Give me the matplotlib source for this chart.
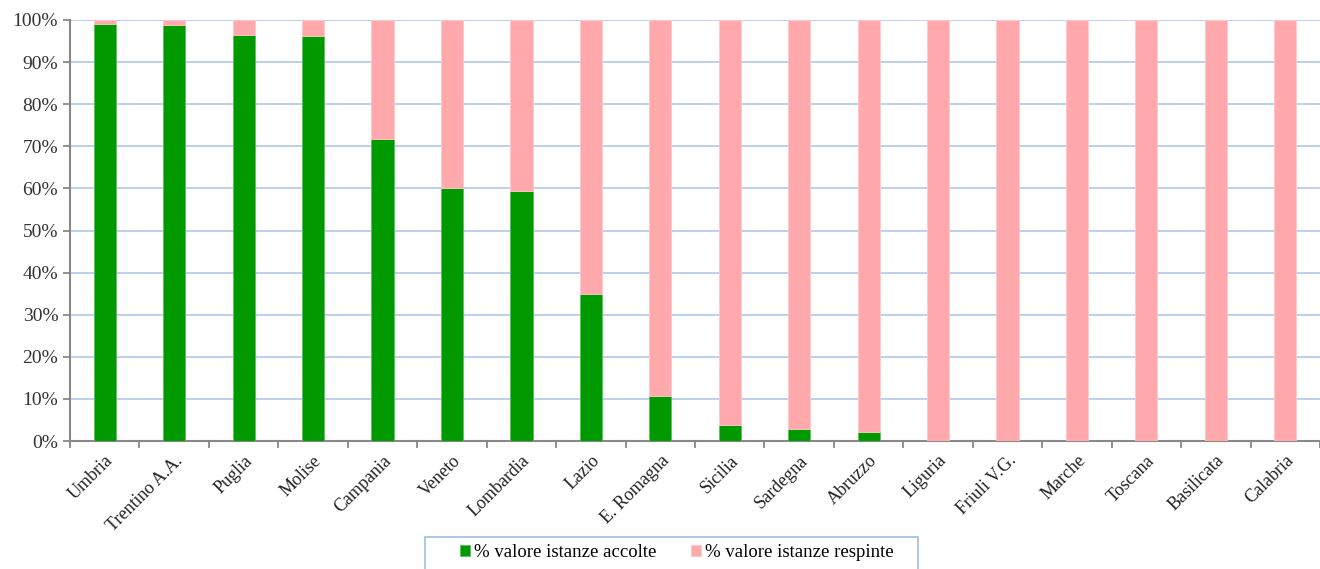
import matplotlib.pyplot as plt
import numpy as np
from matplotlib.ticker import PercentFormatter, FixedLocator
from matplotlib.patches import Rectangle

regions = ["Umbria", "Trentino A.A.", "Puglia", "Molise", "Campania", "Veneto",
           "Lombardia", "Lazio", "E. Romagna", "Sicilia", "Sardegna", "Abruzzo",
           "Liguria", "Friuli V.G.", "Marche", "Toscana", "Basilicata", "Calabria"]
accolte = [99.0, 98.8, 96.5, 96.2, 71.8, 60.0, 59.4, 35.0, 10.8, 3.8, 2.9, 2.2,
           0, 0, 0, 0, 0, 0]
respinte = [100 - v for v in accolte]

plt.rcParams['font.family'] = ['Liberation Serif', 'DejaVu Serif']

W, H = 1320, 569
fig = plt.figure(figsize=(W / 100, H / 100), dpi=100)
ax = fig.add_axes([70/W, 1 - 441/H, 1 - 70/W, (441 - 20)/H])

x = np.arange(len(regions))
w = 0.32
ax.bar(x, accolte, w, color="#009900", edgecolor="#5cc05c", linewidth=0.6,
       label="% valore istanze accolte", zorder=3)
ax.bar(x, respinte, w, bottom=accolte, color="#ffa9ad", edgecolor="#ffc8cb",
       linewidth=0.6, label="% valore istanze respinte", zorder=3)

ax.set_xlim(-0.5, len(regions) - 0.5)
ax.set_ylim(0, 100)
ax.set_yticks(np.arange(0, 101, 10))
ax.yaxis.set_major_formatter(PercentFormatter(decimals=0))
ax.yaxis.grid(True, color="#b0c8ea", linewidth=1.2, zorder=0)

ax.set_xticks(x)
ax.set_xticklabels(regions, rotation=45, ha="right", rotation_mode="anchor")
ax.xaxis.set_minor_locator(FixedLocator(np.arange(-0.5, len(regions), 1)))
ax.tick_params(axis="x", which="major", length=0, pad=8, labelsize=13, colors="#222222")
ax.tick_params(axis="x", which="minor", length=5, width=1.3, color="#888888")
ax.tick_params(axis="y", length=5, width=1.3, color="#888888", labelsize=14,
               labelcolor="#333333")

for s in ["top", "right"]:
    ax.spines[s].set_visible(False)
for s in ["left", "bottom"]:
    ax.spines[s].set_color("#888888")
    ax.spines[s].set_linewidth(1.5)

# legend box (bottom edge is cut off by the figure)
fig.patches.append(Rectangle((425/W, 1 - 580/H), (918 - 425)/W, (580 - 537)/H,
                             transform=fig.transFigure, fill=False,
                             edgecolor="#a8c2e6", linewidth=1.3))
fig.legend(loc="upper center", bbox_to_anchor=((460 + 893)/2/W, 1 - 544/H), ncol=2,
           frameon=False, fontsize=13.5, handlelength=0.55, handleheight=0.55,
           handletextpad=0.2, columnspacing=1.85, borderpad=0, borderaxespad=0)

fig.savefig("out.png", dpi=100)
